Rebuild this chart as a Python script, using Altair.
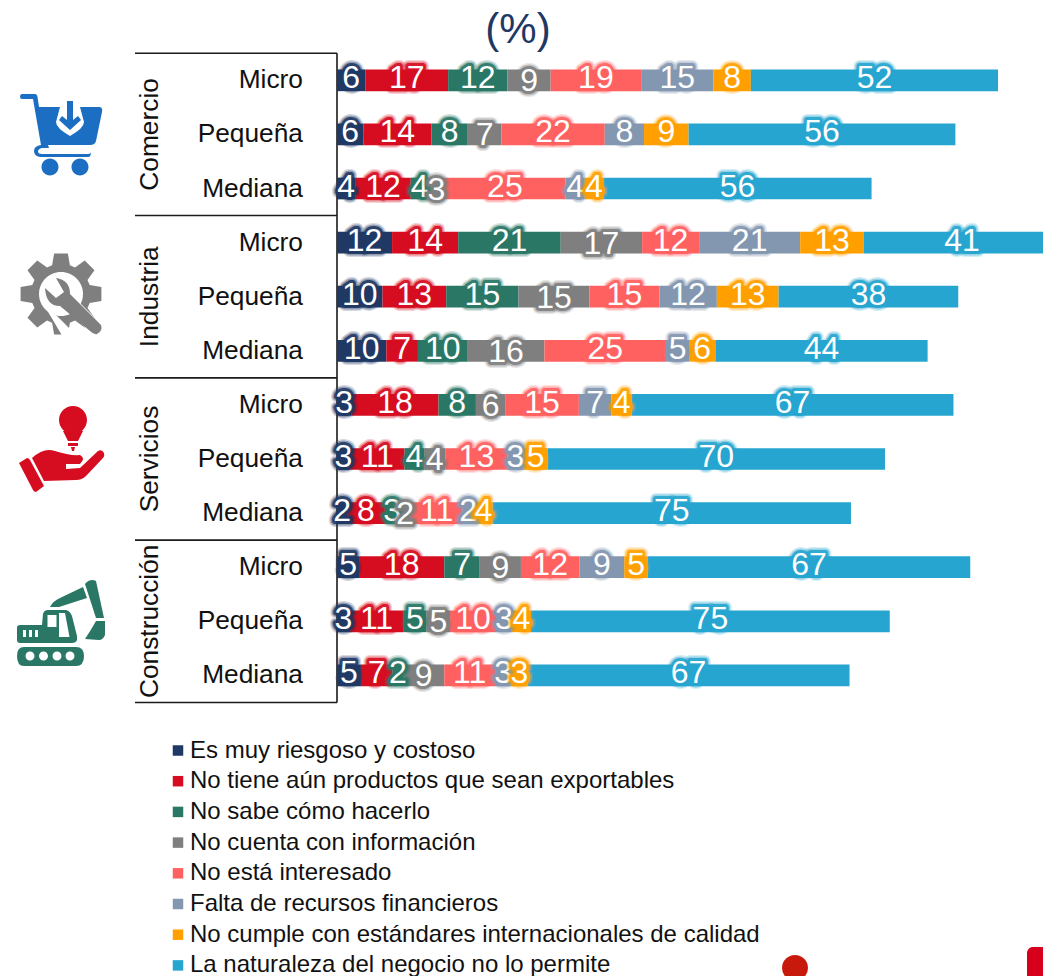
import math, re
import altair as alt
import pandas as pd

FONT = "Liberation Sans"
sizes = ["Micro", "Pequeña", "Mediana"]
sectors = ["Comercio", "Industria", "Servicios", "Construcción"]
reasons = [
    "Es muy riesgoso y costoso",
    "No tiene aún productos que sean exportables",
    "No sabe cómo hacerlo",
    "No cuenta con información",
    "No está interesado",
    "Falta de recursos financieros",
    "No cumple con estándares internacionales de calidad",
    "La naturaleza del negocio no lo permite",
]
colors = ["#1F3864", "#D60D20", "#2A7765", "#7F7F7F", "#FF6161", "#8497B0", "#FFA000", "#25A5CF"]

com_micro = [5.9, 17.3, 12.4, 9.0, 18.9, 15.1, 7.8, 51.6]
com_peq = [5.5, 14.2, 7.6, 7.0, 21.6, 8.2, 9.3, 55.7]
com_med = [3.8, 11.6, 3.7, 3.3, 25.3, 4.0, 3.9, 56.0]
ind_micro = [11.5, 13.8, 21.4, 17.0, 11.9, 21.1, 13.3, 41.0]
ind_peq = [9.5, 13.3, 15.1, 14.8, 14.6, 12.0, 12.9, 37.5]
ind_med = [10.3, 6.6, 10.4, 16.0, 25.4, 4.8, 5.5, 44.3]
ser_micro = [3.0, 18.2, 7.8, 6.1, 15.4, 6.8, 4.2, 67.2]
ser_peq = [2.7, 11.4, 4.1, 4.4, 13.0, 3.3, 5.1, 70.4]
ser_med = [2.1, 7.9, 3.0, 2.4, 10.8, 2.4, 3.9, 74.8]
con_micro = [4.6, 17.8, 7.4, 8.6, 12.2, 9.4, 4.9, 67.3]
con_peq = [2.7, 11.1, 4.9, 4.9, 9.6, 3.3, 4.0, 74.9]
con_med = [5.0, 6.6, 2.2, 8.6, 10.6, 3.4, 3.4, 67.2]
table = [com_micro, com_peq, com_med, ind_micro, ind_peq, ind_med,
         ser_micro, ser_peq, ser_med, con_micro, con_peq, con_med]

rows = []
for r, vals in enumerate(table):
    start = 0.0
    for s, v in enumerate(vals):
        rows.append(dict(row=r, serie=s, reason=reasons[s], start=start, end=start + v,
                         mid=start + v / 2, label=str(round(v))))
        start += v
df = pd.DataFrame(rows)

W, H = 1035, 968
px_unit, px_zero = 4.79, 329
row_step, row_zero = 54.1, 72.3
xs = alt.Scale(domain=[-px_zero / px_unit, (W - px_zero) / px_unit], nice=False, zero=False, padding=0)
ys = alt.Scale(domain=[(H - row_zero) / row_step, -row_zero / row_step], nice=False, zero=False, padding=0)
X = lambda f: alt.X(f, type="quantitative", scale=xs, axis=None)
Y = lambda f: alt.Y(f, type="quantitative", scale=ys, axis=None)

layers = []

# title
layers.append(alt.Chart(pd.DataFrame({"t": ["(%)"]})).mark_text(
    font=FONT, fontSize=42, color="#1F3864", baseline="alphabetic", align="center").encode(
    x=alt.value(510), y=alt.value(35), text="t:N"))

# rules
sep = pd.DataFrame({"row": [-0.5, 2.5, 5.5, 8.5, 11.5]})
layers.append(alt.Chart(sep).mark_rule(color="#1a1a1a", strokeWidth=1.6).encode(
    x=alt.value(127), x2=alt.value(px_zero), y=Y("row")))
layers.append(alt.Chart(pd.DataFrame({"a": [-0.5], "b": [11.5], "z": [0]})).mark_rule(
    color="#1a1a1a", strokeWidth=1.6).encode(x=X("z"), y=Y("a"), y2="b"))

# bars
layers.append(alt.Chart(df).mark_bar(size=21.7, clip=True).encode(
    x=X("start"), x2="end", y=Y("row"),
    color=alt.Color("reason:N", scale=alt.Scale(domain=reasons, range=colors), legend=alt.Legend(
        title=None, orient="none", legendX=158, legendY=730.5, symbolType="square", symbolSize=110,
        symbolStrokeWidth=0, symbolOpacity=1, labelFont=FONT, labelFontSize=24, labelColor="#111111",
        labelLimit=800, rowPadding=6.7, labelOffset=0, padding=0)),
))

# value labels with a coloured glow, drawn series by series
for s, col in enumerate(colors):
    d = df[df.serie == s]
    dy = 1 if s == 3 else -2
    for sw, op in [(12, 0.2), (9, 0.4), (6, 0.9)]:
        layers.append(alt.Chart(d).mark_text(
            font=FONT, fontSize=32, dy=dy, stroke=col, strokeWidth=sw, strokeOpacity=op,
            strokeJoin="round", fill=col, clip=True).encode(x=X("mid"), y=Y("row"), text="label:N"))
    layers.append(alt.Chart(d).mark_text(
        font=FONT, fontSize=32, dy=dy, color="#FFFFFF", clip=True).encode(
        x=X("mid"), y=Y("row"), text="label:N"))

# row and group labels
rl = pd.DataFrame({"row": list(range(12)), "t": sizes * 4})
layers.append(alt.Chart(rl).mark_text(font=FONT, fontSize=26.3, align="right", color="#111111").encode(
    x=alt.value(295), y=Y("row"), text="t:N"))
gl = pd.DataFrame({"row": [1, 4, 7, 10], "t": sectors})
layers.append(alt.Chart(gl).mark_text(font=FONT, fontSize=26.3, angle=270, baseline="alphabetic",
                                      color="#111111").encode(
    x=alt.value(150), y=Y("row"), text="t:N"))


# icons
def shape(path, cx, cy):
    def f(m):
        return f"{(float(m.group(1)) - cx) / 50:.4f},{(float(m.group(2)) - cy) / 50:.4f}"
    return re.sub(r"(-?\d+\.?\d*)[ ,](-?\d+\.?\d*)", f, path)


def circ(x, y, r):
    k = 0.5523 * r
    return (f"M{x+r},{y} C{x+r},{y+k} {x+k},{y+r} {x},{y+r} C{x-k},{y+r} {x-r},{y+k} {x-r},{y} "
            f"C{x-r},{y-k} {x-k},{y-r} {x},{y-r} C{x+k},{y-r} {x+r},{y-k} {x+r},{y} Z ")


def icon(path, color, cx, cy):
    return alt.Chart(pd.DataFrame({"a": [0]})).mark_point(
        shape=shape(path, cx, cy), size=10000, filled=True, color=color, opacity=1, strokeWidth=0
    ).encode(x=alt.value(cx - 8), y=alt.value(cy - 8))


cart = "#1B6EC2"
layers.append(icon(
    "M22,94 L35,94 Q37,94 37.5,97 L39,107 L99,107 Q103,107 102,112 L96,141 Q95,145 90,145 L48,145 "
    "L49,148 L42,148 Q38,149 38,151.5 Q38,154 42,154 L88,154 Q91,154 91,151.5 Q91,157 88,157 L40,157 "
    "Q34,156 34,151 Q34,146 41,145 L33,99 L22,99 Q20,99 20,96.5 Q20,94 22,94 Z " + circ(50, 167, 8.5) + circ(80, 167, 8.5),
    cart, 60, 130))
layers.append(icon("M60,107 L80,107 L84,122 Q84,128 70,136 Q56,128 56,122 Z", "#FFFFFF", 70, 120))
layers.append(icon("M67,101 L73,101 L73,120 L78,116 L81,120 L70,130 L59,120 L62,116 L67,120 Z", cart, 70, 112))

gcx, gcy = 61, 294
pts = []
for i in range(8):
    a = i * math.pi / 4 - math.pi / 2
    for da, r in [(-0.30, 30), (-0.17, 41), (0.17, 41), (0.30, 30)]:
        pts.append((gcx + r * math.cos(a + da), gcy + r * math.sin(a + da)))
gear = "M" + " L".join(f"{x:.1f},{y:.1f}" for x, y in pts) + " Z"
gray = "#7F7F7F"
layers.append(icon(gear, gray, gcx, gcy))
layers.append(icon(circ(gcx, gcy, 22), "#FFFFFF", gcx, gcy))
layers.append(icon("M66,289 L104,327 L96,338 L58,300 L50,309 L90,349 L70,349 L44,305 Z", "#FFFFFF", 70, 310))
layers.append(icon("M56,278 Q70,280 70,294 L101,325 Q103,331 97,334 Q94,335 90,331 L60,306 Q46,306 45,288 L56,298 L64,292 Z",
                   gray, 70, 306))

red = "#D60D20"
layers.append(icon(circ(73, 420, 14) + "M63,431 L83,431 L78,441 L68,441 Z M68,443 L78,443 L78,446 L68,446 Z M71,447 L75,447 L74,451 L72,451 Z",
                   red, 73, 430))
layers.append(icon("M19,463 L27,458 Q29,458 30,460 L44,486 L36,492 Q34,492 33,490 Z", red, 30, 475))
layers.append(icon("M32,458 Q44,447 55,451 Q70,456 80,455 Q86,458 80,464 L66,464 L66,469 L80,468 L98,451 Q102,449 104,453 Q105,456 103,458 "
                   "L86,476 Q82,480 76,480 L44,481 Z", red, 65, 465))

green = "#2A7765"
layers.append(icon("M24,647 L76,647 Q84,647 84,656 Q84,666 76,666 L24,666 Q17,666 17,656 Q17,647 24,647 Z", green, 50, 656))
layers.append(icon(circ(30, 656, 4.5) + circ(43.5, 656, 4.5) + circ(57, 656, 4.5) + circ(70, 656, 4.5), "#FFFFFF", 50, 656))
layers.append(icon("M20,625 L42,625 L43,614 Q44,610 48,610 L66,610 Q70,611 72,616 L77,636 L77,640 Q76,643 72,643 L20,643 Q17,643 17,640 L17,628 Q17,625 20,625 Z",
                   green, 47, 627))
layers.append(icon("M47.5,615 L56.5,615 L56.5,627 L47.5,627 Z M59,613 L65,613 L69.5,637 L59,637 Z M23,630 L26,630 L26,637 L23,637 Z M29,630 L32,630 L32,637 L29,637 Z M35,630 L38,630 L38,637 L35,637 Z",
                   "#FFFFFF", 47, 627))
layers.append(icon("M50,607 Q53,601 60,598 L83,587 L87,598 L59,607 Z", green, 68, 597))
layers.append(icon("M85,584 Q90,578 96,581 L104,618 L96,618 Z", green, 95, 600))
layers.append(icon("M96,621 L105,621 L105,635 Q103,640 99,640 L85,639 Q91,630 96,621 Z", green, 95, 630))

# stray slide shapes at the lower edge
layers.append(alt.Chart(pd.DataFrame({"a": [0]})).mark_point(
    shape="circle", size=26 * 26, filled=True, color="#C8190D", opacity=1, strokeWidth=0).encode(
    x=alt.value(795 - 8), y=alt.value(968 - 8)))
layers.append(alt.Chart(pd.DataFrame({"a": [0]})).mark_rect(color="#D6001C", cornerRadius=6).encode(
    x=alt.value(1027 - 8), x2=alt.value(1070), y=alt.value(947 - 8), y2=alt.value(H + 30)))

chart = alt.layer(*layers).properties(
    width=W, height=H, padding=0, autosize=alt.AutoSizeParams(type="none"),
).configure_view(stroke=None)

chart.save("out.html", embed_options={"renderer": "svg", "actions": False})
